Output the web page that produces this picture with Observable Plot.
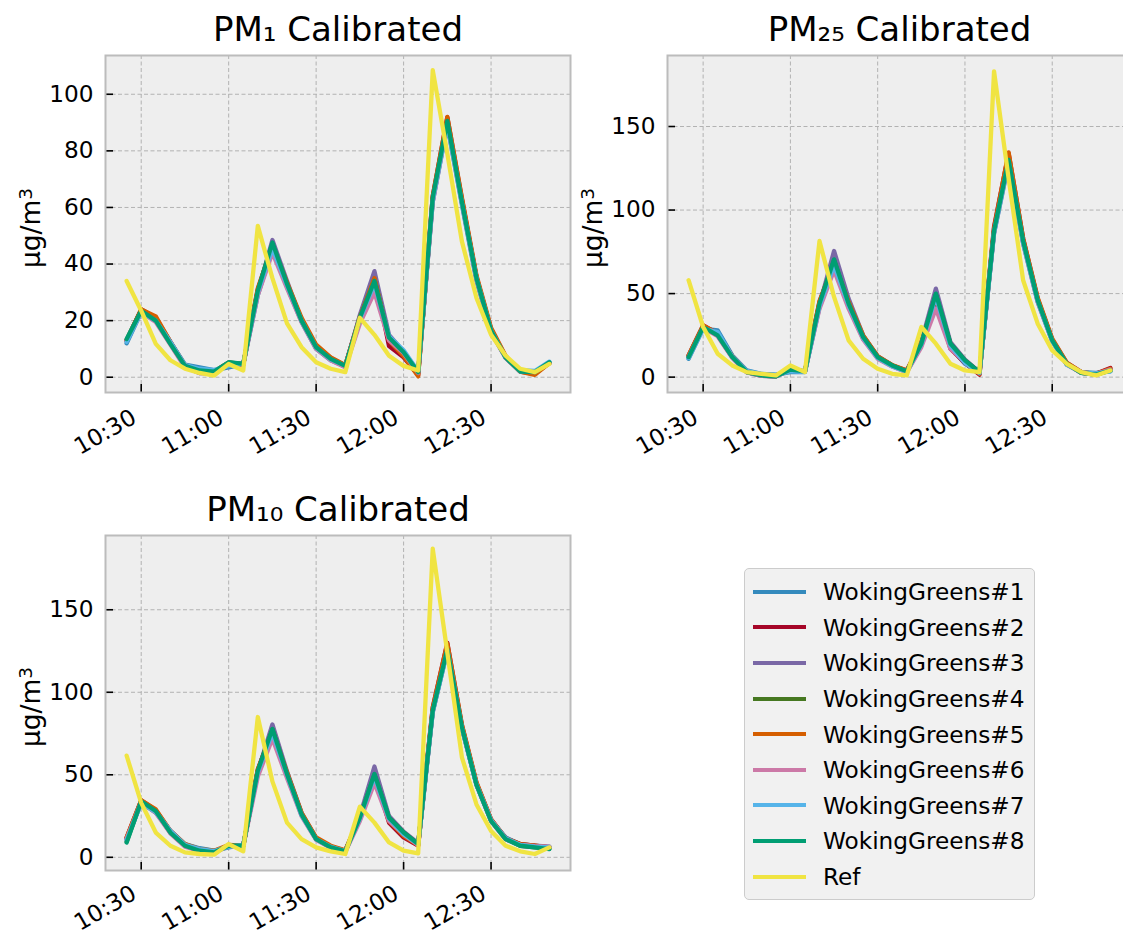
<!DOCTYPE html>
<html><head><meta charset="utf-8">
<script src="https://cdn.jsdelivr.net/npm/d3@7"></script>
<script src="https://cdn.jsdelivr.net/npm/@observablehq/plot@0.6"></script>
<style>
body{margin:0;background:#fff;font-family:"DejaVu Sans",sans-serif;}
#fig{position:relative;width:1123px;height:930px;overflow:hidden;background:#fff;}
.panel{position:absolute;}
#legend{position:absolute;left:744px;top:568px;width:291px;height:332px;box-sizing:border-box;border:1.5px solid #cccccc;border-radius:5px;background:#f1f1f1;padding-top:5px;}
.row{height:35.6px;display:flex;align-items:center;font-size:23.2px;color:#000;}
.sw{width:53px;height:4px;margin-left:8px;margin-right:17px;}
</style></head><body><div id="fig"></div>
<script>
const times = ["10:25","10:30","10:35","10:40","10:45","10:50","10:55","11:00","11:05","11:10","11:15","11:20","11:25","11:30","11:35","11:40","11:45","11:50","11:55","12:00","12:05","12:10","12:15","12:20","12:25","12:30","12:35","12:40","12:45","12:50"];
const xTickLabels = ["10:30","11:00","11:30","12:00","12:30"];
const seriesNames = ["WokingGreens#1","WokingGreens#2","WokingGreens#3","WokingGreens#4","WokingGreens#5","WokingGreens#6","WokingGreens#7","WokingGreens#8","Ref"];
const colors = ["#348ABD","#A60628","#7A68A6","#467821","#D55E00","#CC79A7","#56B4E9","#009E73","#F0E442"];
const titles = ["PM\u2081 Calibrated","PM\u2082\u2085 Calibrated","PM\u2081\u2080 Calibrated"];
const yLabelBase = "\u00b5g/m";
const yLabelSup = "3";

// PM1
const pm1WG1 = [12,23,20.5,12.5,4.5,3.5,2.5,3.5,4.5,29,45.5,32,19.5,10,6,3.8,20,33,13,8,1.5,62,89,61,34,16,6.8,2.2,2,5];
const pm1WG2 = [13,24,21,12.5,4,2.2,1.8,5,4.5,31,46.5,32.5,20.5,11,6.8,4.2,21.5,36,11,7,0.8,64,91.8,63,35.5,17,7.2,2,1.2,5];
const pm1WG3 = [13,23.5,20,12,3.8,1.5,1.5,5,4.8,30,48.5,34,20,10.5,6.3,3.8,22,37.5,15,9,2,62.5,90,62.5,35,16.5,7,2.2,2,5];
const pm1WG4 = [13.2,23.8,20.5,12,4,2.3,2,5.2,4.6,30.5,47,33,20.2,10.8,6.5,4,21,34.5,14,8.5,1.5,63,90.5,62,35,16.5,7,2,1.8,5.2];
const pm1WG5 = [13,24,21.5,12.5,4.2,2.5,2,5.2,4.5,31.5,46.5,33.5,21,11.5,7,4.3,21,35,13,7.5,0.3,64,92,63.5,36,17.5,7.5,2,0.8,5];
const pm1WG6 = [13,23,19.5,11.5,3.5,1.5,1.5,5,4.5,29,44,31.5,19.5,10,6,3.5,19,30,13,8.5,1.5,62,89.5,61.5,34.5,16,6.8,2,1.8,5];
const pm1WG7 = [12.5,23,20,12.5,4.3,3,2.5,4,4.8,30,45.5,32.5,20,10.5,6.3,4,20.5,33,14.5,9.5,2,62.5,89.5,61.5,35,16.5,7,2.5,2.2,5.5];
const pm1WG8 = [13.5,23.5,20,11.8,4,2.4,2,5.3,4.7,30.6,47.6,33,20,10.6,6.5,4,21,34,14,8.8,1.8,63.5,90.6,62,35,16.5,7,2,1.8,5.3];
const pm1Ref = [34,23.5,11.8,6,3,1.5,0.6,4.7,2.4,53.5,35,19,10.6,5.3,3,1.8,21,15,7.6,4,2.4,108.5,79,48,28,15,7.6,3,1.8,4.7];

// PM2.5
const pm25WG1 = [11,29,28,13,4,2,1.5,3,3,42,66,42,23,11.5,6.5,3,19,46,18,8,2.5,86,128,80,45,21.5,7.5,3,2.5,3.5];
const pm25WG2 = [13,31,26,12.5,3.5,1.5,1,4.5,3.5,45,69,44.5,24.5,12.5,7,4,21,47,17,8.5,1.5,90,134,83,47,22.5,8.5,3,2,5.5];
const pm25WG3 = [12.5,30.5,25,12,3,0.8,0.3,4.2,3.3,43,75.5,47,25,12,6.8,3.3,21,53,21,10.5,3,87,131,81,46,22,8,2.5,2,4.5];
const pm25WG4 = [12.2,30,25.5,12,3,1,0.5,4.5,3.5,44,70,44,24,12,7,3.5,20,49.5,20,10,3,87.5,130.5,81.5,46,22,8,2.5,1.5,4];
const pm25WG5 = [13,31,26,12.5,3.5,1.5,1,4.5,3.5,45.5,68,45,25,12.5,7.2,4,20.5,48,18,9,2,89,134.5,83,47.5,23,8.5,3,2,5];
const pm25WG6 = [12,29.5,24.5,11.5,2.8,0.8,0.5,4.3,3.3,41,64,41,22.5,11,6.3,3,18,41,17,9,2.5,86.5,129,80,45,21.5,7.5,2.5,1.8,4.5];
const pm25WG7 = [11.5,29,27,12.5,3.8,1.8,1.2,3.5,3.2,42.5,67,43,23.5,11.5,6.5,3.2,19.5,48,19,8.5,2.5,86.5,129,80.5,45.5,21.5,7.5,2.8,2.2,3.5];
const pm25WG8 = [12,30,25,12,3,1,0.5,4.5,3.5,44,70.5,44,24,12,7,3.5,20,50,20,10,3,87.5,130,81.5,46,22,8,2.5,1.5,4];
const pm25Ref = [58,30,14,7,3,2,1,7,3,81.5,48,22,11,5,2,1,30,20,8,4,3,183,119,58,32,16,8,3,1,4];

// PM10
const pm10WG1 = [11,33,27,16,8,5.5,4,6,7.5,51,75,49.5,25.5,11,6.5,4,23,49,23,13,7.5,88,125,78,44,22.5,12,8,7,6.5];
const pm10WG2 = [12,34.5,28.5,16,7.5,4.5,3.5,7,7,53,77,51,26.5,11.5,6.5,4,24.5,50,21,12,7,91,130,80,45,23,11.5,8,7,6];
const pm10WG3 = [11.5,34,28,15,7,4,3,7,7,52,80.5,52,27,11.5,6.2,3.8,25,55,25,15.5,8.5,88.5,127,79,44.5,22.5,11.5,7.5,6.5,6];
const pm10WG4 = [9.5,34,28,15,7,4,3,7,7,52.5,77.5,50.5,26,11,6,3.6,24,50,24,15,8,89,126.5,79,44,22,11,7,6,5.2];
const pm10WG5 = [12,34.5,29,16,8,5,4,7.5,7,53.5,76,51.5,27,12,7,4.3,24,49,22,13,7.5,90.5,129.5,80.5,45.5,23,11.5,8,7,6];
const pm10WG6 = [11,33.5,27,14.5,6.5,3.8,2.8,6.8,6.8,49,72,48,25,10.5,5.8,3.3,22,45,22,14,7.5,88,125.5,78,44,22,11,7.5,6.8,6.5];
const pm10WG7 = [10.5,33,27.5,16,7.5,5,3.8,6.5,7.5,51.5,75.5,50,25.5,11,6.3,3.8,23.5,49,23.5,14,8,88,125,78.5,44,22.5,11.5,7.5,6.5,6];
const pm10WG8 = [9,34,28,15,7,4,3,7,7,52.5,77.8,50.5,26,11,6,3.6,24,50.5,24,15,8,89,126,78.8,44,22,11,7,6,5];
const pm10Ref = [61.6,33,15,7,3,2,1.6,8,3.6,85,46,21,11,6,3.6,2,30.7,21,9,4,2.4,187,124,60.6,32,16,7,3.6,2,6];

const pm1YTicks = [0,20,40,60,80,100];
const pm25YTicks = [0,50,100,150];
const pm10YTicks = [0,50,100,150];

const toDate = s => { const [h, m] = s.split(":").map(Number); return new Date(Date.UTC(2021, 0, 1, h, m)); };
const timeDates = times.map(toDate);
const xTickDates = xTickLabels.map(toDate);
const t0 = +timeDates[0], t1 = +timeDates[timeDates.length - 1];
const xDomain = [new Date(t0 - 0.05 * (t1 - t0)), new Date(t1 + 0.05 * (t1 - t0))];

const W = 600;
const FS = 23.2;
function makePanel(cfg) {
  const {series, yDomain, yTicks, title, ml, mt, mr, mb, left, top, H, xPad} = cfg;
  const data = [];
  seriesNames.forEach((name, i) => series[i].forEach((v, j) => data.push({time: timeDates[j], value: v, series: name})));
  const fw = W - ml - mr, fh = H - mt - mb;
  const plot = Plot.plot({
    width: W, height: H, marginLeft: ml, marginRight: mr, marginTop: mt, marginBottom: mb,
    style: {fontFamily: "DejaVu Sans", fontSize: FS + "px", color: "#000", background: "transparent", overflow: "visible"},
    x: {type: "utc", domain: xDomain},
    y: {domain: yDomain},
    color: {domain: seriesNames, range: colors},
    marks: [
      Plot.frame({fill: "#eeeeee", stroke: null}),
      Plot.gridX(xTickDates, {stroke: "#b2b2b2", strokeOpacity: 1, strokeWidth: 1, strokeDasharray: "4,2.5"}),
      Plot.gridY(yTicks, {stroke: "#b2b2b2", strokeOpacity: 1, strokeWidth: 1, strokeDasharray: "4,2.5"}),
      Plot.line(data, {x: "time", y: "value", z: "series", stroke: "series", strokeWidth: 4.3}),
      Plot.tickX(xTickDates, {x: d => d, stroke: "#000", strokeWidth: 1.6, insetTop: fh - 8}),
      Plot.tickY(yTicks, {y: d => d, stroke: "#000", strokeWidth: 1.6, insetRight: fw - 8}),
      Plot.frame({stroke: "#bcbcbc", strokeWidth: 2}),
      Plot.axisX(xTickDates, {tickSize: 0, tickPadding: xPad, dx: -7, tickRotate: -30, tickFormat: d3.utcFormat("%H:%M"), label: null, fontSize: FS}),
      Plot.axisY(yTicks, {tickSize: 0, tickPadding: 12, label: null, fontSize: FS}),
      Plot.text([title], {frameAnchor: "top", dy: -15, lineAnchor: "bottom", fontSize: 34, fill: "#000"}),
      Plot.text([yLabelBase], {frameAnchor: "left", textAnchor: "middle", dx: -74, dy: 4, rotate: -90, fontSize: 26.5, fill: "#000"})
    ]
  });
  d3.select(plot).selectAll("text").filter(function() { return this.textContent === yLabelBase; })
    .append("tspan").attr("dy", "-0.42em").attr("font-size", "18.5px").text(yLabelSup);
  plot.classList.add("panel");
  plot.style.left = left + "px";
  plot.style.top = top + "px";
  return plot;
}

const fig = document.getElementById("fig");
fig.appendChild(makePanel({
  series: [pm1WG1, pm1WG2, pm1WG3, pm1WG4, pm1WG5, pm1WG6, pm1WG7, pm1WG8, pm1Ref],
  yDomain: [-5.4, 113.7], yTicks: pm1YTicks, title: titles[0],
  ml: 105, mt: 55, mr: 30, mb: 78, left: 0, top: 0, H: 470, xPad: 23
}));
fig.appendChild(makePanel({
  series: [pm25WG1, pm25WG2, pm25WG3, pm25WG4, pm25WG5, pm25WG6, pm25WG7, pm25WG8, pm25Ref],
  yDomain: [-9.2, 192.5], yTicks: pm25YTicks, title: titles[1],
  ml: 107, mt: 55, mr: 29, mb: 78, left: 560, top: 0, H: 470, xPad: 23
}));
fig.appendChild(makePanel({
  series: [pm10WG1, pm10WG2, pm10WG3, pm10WG4, pm10WG5, pm10WG6, pm10WG7, pm10WG8, pm10Ref],
  yDomain: [-8, 195], yTicks: pm10YTicks, title: titles[2],
  ml: 105, mt: 55, mr: 30, mb: 59, left: 0, top: 480, H: 449, xPad: 21
}));

const legend = document.createElement("div");
legend.id = "legend";
seriesNames.forEach((name, i) => {
  const row = document.createElement("div");
  row.className = "row";
  const sw = document.createElement("div");
  sw.className = "sw";
  sw.style.background = colors[i];
  const lab = document.createElement("span");
  lab.textContent = name;
  row.appendChild(sw);
  row.appendChild(lab);
  legend.appendChild(row);
});
fig.appendChild(legend);
</script></body></html>
